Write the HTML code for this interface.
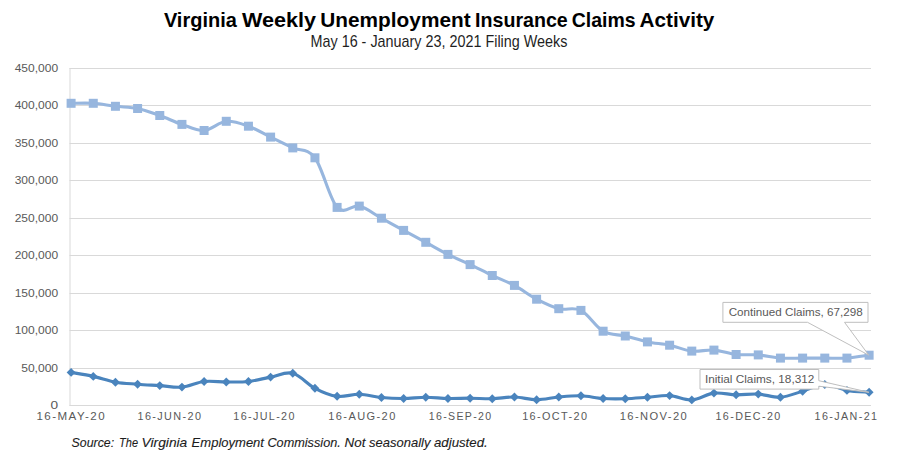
<!DOCTYPE html>
<html lang="en"><head><meta charset="utf-8"><title>Virginia Weekly Unemployment Insurance Claims Activity</title>
<style>html,body{margin:0;padding:0;background:#fff}body{width:908px;height:457px;overflow:hidden}svg{display:block}text{font-family:"Liberation Sans",Arial,sans-serif}</style>
</head><body>
<svg width="908" height="457" viewBox="0 0 908 457">
<rect width="908" height="457" fill="#fff"/>
<text y="26.6" font-size="20.2" font-weight="bold" fill="#000"><tspan x="163.9" textLength="73.0" lengthAdjust="spacingAndGlyphs">Virginia</tspan> <tspan x="242.0" textLength="74.0" lengthAdjust="spacingAndGlyphs">Weekly</tspan> <tspan x="320.3" textLength="150.3" lengthAdjust="spacingAndGlyphs">Unemployment</tspan> <tspan x="475.0" textLength="92.8" lengthAdjust="spacingAndGlyphs">Insurance</tspan> <tspan x="571.8" textLength="63.8" lengthAdjust="spacingAndGlyphs">Claims</tspan> <tspan x="639.6" textLength="74.8" lengthAdjust="spacingAndGlyphs">Activity</tspan></text>
<text x="310.5" y="46.9" font-size="16.4" fill="#1f1f1f" textLength="256.9" lengthAdjust="spacingAndGlyphs">May 16 - January 23, 2021 Filing Weeks</text>
<g stroke="#d9d9d9" stroke-width="1" fill="none">
<line x1="69.5" y1="405.50" x2="871.0" y2="405.50"/>
<line x1="69.5" y1="368.50" x2="871.0" y2="368.50"/>
<line x1="69.5" y1="330.50" x2="871.0" y2="330.50"/>
<line x1="69.5" y1="293.50" x2="871.0" y2="293.50"/>
<line x1="69.5" y1="255.50" x2="871.0" y2="255.50"/>
<line x1="69.5" y1="218.50" x2="871.0" y2="218.50"/>
<line x1="69.5" y1="180.50" x2="871.0" y2="180.50"/>
<line x1="69.5" y1="143.50" x2="871.0" y2="143.50"/>
<line x1="69.5" y1="105.50" x2="871.0" y2="105.50"/>
<line x1="69.5" y1="68.50" x2="871.0" y2="68.50"/>
<line x1="70.0" y1="68.00" x2="70.0" y2="406.00"/>
</g>
<g font-size="10.6" fill="#595959" text-anchor="end">
<text x="58.1" y="408.90" textLength="7.6" lengthAdjust="spacingAndGlyphs">0</text>
<text x="58.1" y="371.90" textLength="36.9" lengthAdjust="spacingAndGlyphs">50,000</text>
<text x="58.1" y="333.90" textLength="43.4" lengthAdjust="spacingAndGlyphs">100,000</text>
<text x="58.1" y="296.90" textLength="43.4" lengthAdjust="spacingAndGlyphs">150,000</text>
<text x="58.1" y="258.90" textLength="43.4" lengthAdjust="spacingAndGlyphs">200,000</text>
<text x="58.1" y="221.90" textLength="43.4" lengthAdjust="spacingAndGlyphs">250,000</text>
<text x="58.1" y="183.90" textLength="43.4" lengthAdjust="spacingAndGlyphs">300,000</text>
<text x="58.1" y="146.90" textLength="43.4" lengthAdjust="spacingAndGlyphs">350,000</text>
<text x="58.1" y="108.90" textLength="43.4" lengthAdjust="spacingAndGlyphs">400,000</text>
<text x="58.1" y="71.90" textLength="43.4" lengthAdjust="spacingAndGlyphs">450,000</text>
</g>
<g font-size="10.6" fill="#595959">
<text x="36.4" y="420.1" letter-spacing="1.35" textLength="69.8" lengthAdjust="spacingAndGlyphs">16-MAY-20</text>
<text x="137.5" y="420.1" letter-spacing="1.35" textLength="64.8" lengthAdjust="spacingAndGlyphs">16-JUN-20</text>
<text x="233.3" y="420.1" letter-spacing="1.35" textLength="62.5" lengthAdjust="spacingAndGlyphs">16-JUL-20</text>
<text x="328.3" y="420.1" letter-spacing="1.35" textLength="68.4" lengthAdjust="spacingAndGlyphs">16-AUG-20</text>
<text x="428.7" y="420.1" letter-spacing="1.35" textLength="63.8" lengthAdjust="spacingAndGlyphs">16-SEP-20</text>
<text x="522.2" y="420.1" letter-spacing="1.35" textLength="66.2" lengthAdjust="spacingAndGlyphs">16-OCT-20</text>
<text x="619.7" y="420.1" letter-spacing="1.35" textLength="68.5" lengthAdjust="spacingAndGlyphs">16-NOV-20</text>
<text x="715.5" y="420.1" letter-spacing="1.35" textLength="66.1" lengthAdjust="spacingAndGlyphs">16-DEC-20</text>
<text x="814.6" y="420.1" letter-spacing="1.35" textLength="63.8" lengthAdjust="spacingAndGlyphs">16-JAN-21</text>
</g>
<path d="M71.10 103.30 C74.79 103.30 85.88 102.80 93.27 103.30 C100.66 103.80 108.05 105.43 115.43 106.30 C122.82 107.17 130.21 106.97 137.60 108.50 C144.99 110.03 152.38 112.85 159.77 115.50 C167.16 118.15 174.55 121.90 181.94 124.40 C189.32 126.90 196.71 131.02 204.10 130.50 C211.49 129.98 218.88 122.02 226.27 121.30 C233.66 120.58 241.05 123.57 248.44 126.20 C255.83 128.83 263.21 133.48 270.60 137.10 C277.99 140.72 285.38 144.45 292.77 147.90 C300.16 151.35 307.55 147.88 314.94 157.80 C322.33 167.72 329.72 199.35 337.10 207.40 C344.49 215.45 351.88 204.30 359.27 206.10 C366.66 207.90 374.05 214.15 381.44 218.20 C388.83 222.25 396.22 226.38 403.61 230.40 C410.99 234.42 418.38 238.30 425.77 242.30 C433.16 246.30 440.55 250.68 447.94 254.40 C455.33 258.12 462.72 261.08 470.11 264.60 C477.50 268.12 484.88 272.03 492.27 275.50 C499.66 278.97 507.05 281.45 514.44 285.40 C521.83 289.35 529.22 295.32 536.61 299.20 C544.00 303.08 551.38 306.83 558.77 308.70 C566.16 310.57 573.55 306.65 580.94 310.40 C588.33 314.15 595.72 326.93 603.11 331.20 C610.50 335.47 617.89 334.22 625.28 336.00 C632.66 337.78 640.05 340.37 647.44 341.90 C654.83 343.43 662.22 343.67 669.61 345.20 C677.00 346.73 684.39 350.28 691.78 351.10 C699.17 351.92 706.55 349.53 713.94 350.10 C721.33 350.67 728.72 353.70 736.11 354.50 C743.50 355.30 750.89 354.30 758.28 354.90 C765.67 355.50 773.06 357.57 780.44 358.10 C787.83 358.63 795.22 358.10 802.61 358.10 C810.00 358.10 817.39 358.10 824.78 358.10 C832.17 358.10 839.56 358.58 846.95 358.10 C854.33 357.62 865.42 355.68 869.11 355.20" fill="none" stroke="#97b6de" stroke-width="3.1" stroke-linejoin="round" stroke-linecap="round"/>
<g fill="#97b6de">
<rect x="66.60" y="98.80" width="9" height="9"/>
<rect x="88.77" y="98.80" width="9" height="9"/>
<rect x="110.93" y="101.80" width="9" height="9"/>
<rect x="133.10" y="104.00" width="9" height="9"/>
<rect x="155.27" y="111.00" width="9" height="9"/>
<rect x="177.44" y="119.90" width="9" height="9"/>
<rect x="199.60" y="126.00" width="9" height="9"/>
<rect x="221.77" y="116.80" width="9" height="9"/>
<rect x="243.94" y="121.70" width="9" height="9"/>
<rect x="266.10" y="132.60" width="9" height="9"/>
<rect x="288.27" y="143.40" width="9" height="9"/>
<rect x="310.44" y="153.30" width="9" height="9"/>
<rect x="332.60" y="202.90" width="9" height="9"/>
<rect x="354.77" y="201.60" width="9" height="9"/>
<rect x="376.94" y="213.70" width="9" height="9"/>
<rect x="399.11" y="225.90" width="9" height="9"/>
<rect x="421.27" y="237.80" width="9" height="9"/>
<rect x="443.44" y="249.90" width="9" height="9"/>
<rect x="465.61" y="260.10" width="9" height="9"/>
<rect x="487.77" y="271.00" width="9" height="9"/>
<rect x="509.94" y="280.90" width="9" height="9"/>
<rect x="532.11" y="294.70" width="9" height="9"/>
<rect x="554.27" y="304.20" width="9" height="9"/>
<rect x="576.44" y="305.90" width="9" height="9"/>
<rect x="598.61" y="326.70" width="9" height="9"/>
<rect x="620.78" y="331.50" width="9" height="9"/>
<rect x="642.94" y="337.40" width="9" height="9"/>
<rect x="665.11" y="340.70" width="9" height="9"/>
<rect x="687.28" y="346.60" width="9" height="9"/>
<rect x="709.44" y="345.60" width="9" height="9"/>
<rect x="731.61" y="350.00" width="9" height="9"/>
<rect x="753.78" y="350.40" width="9" height="9"/>
<rect x="775.94" y="353.60" width="9" height="9"/>
<rect x="798.11" y="353.60" width="9" height="9"/>
<rect x="820.28" y="353.60" width="9" height="9"/>
<rect x="842.45" y="353.60" width="9" height="9"/>
<rect x="864.61" y="350.70" width="9" height="9"/>
</g>
<path d="M71.10 372.40 C74.79 373.07 85.88 374.77 93.27 376.40 C100.66 378.03 108.05 380.90 115.43 382.20 C122.82 383.50 130.21 383.63 137.60 384.20 C144.99 384.77 152.38 385.12 159.77 385.60 C167.16 386.08 174.55 387.78 181.94 387.10 C189.32 386.42 196.71 382.35 204.10 381.50 C211.49 380.65 218.88 382.00 226.27 382.00 C233.66 382.00 241.05 382.32 248.44 381.50 C255.83 380.68 263.21 378.47 270.60 377.10 C277.99 375.73 285.38 371.43 292.77 373.30 C300.16 375.17 307.55 384.47 314.94 388.30 C322.33 392.13 329.72 395.30 337.10 396.30 C344.49 397.30 351.88 394.10 359.27 394.30 C366.66 394.50 374.05 396.80 381.44 397.50 C388.83 398.20 396.22 398.55 403.61 398.50 C410.99 398.45 418.38 397.20 425.77 397.20 C433.16 397.20 440.55 398.33 447.94 398.50 C455.33 398.67 462.72 398.17 470.11 398.20 C477.50 398.23 484.88 398.90 492.27 398.70 C499.66 398.50 507.05 396.83 514.44 397.00 C521.83 397.17 529.22 399.70 536.61 399.70 C544.00 399.70 551.38 397.65 558.77 397.00 C566.16 396.35 573.55 395.55 580.94 395.80 C588.33 396.05 595.72 398.02 603.11 398.50 C610.50 398.98 617.89 398.92 625.28 398.70 C632.66 398.48 640.05 397.72 647.44 397.20 C654.83 396.68 662.22 395.15 669.61 395.60 C677.00 396.05 684.39 400.32 691.78 399.90 C699.17 399.48 706.55 393.95 713.94 393.10 C721.33 392.25 728.72 394.63 736.11 394.80 C743.50 394.97 750.89 393.70 758.28 394.10 C765.67 394.50 773.06 397.68 780.44 397.20 C787.83 396.72 795.22 393.32 802.61 391.20 C810.00 389.08 817.39 384.63 824.78 384.50 C832.17 384.37 839.56 389.12 846.95 390.40 C854.33 391.68 865.42 391.90 869.11 392.20" fill="none" stroke="#4a84bd" stroke-width="3.15" stroke-linejoin="round" stroke-linecap="round"/>
<g fill="#4a84bd">
<path d="M71.10 367.95L75.55 372.40L71.10 376.85L66.65 372.40Z"/>
<path d="M93.27 371.95L97.72 376.40L93.27 380.85L88.82 376.40Z"/>
<path d="M115.43 377.75L119.88 382.20L115.43 386.65L110.98 382.20Z"/>
<path d="M137.60 379.75L142.05 384.20L137.60 388.65L133.15 384.20Z"/>
<path d="M159.77 381.15L164.22 385.60L159.77 390.05L155.32 385.60Z"/>
<path d="M181.94 382.65L186.38 387.10L181.94 391.55L177.49 387.10Z"/>
<path d="M204.10 377.05L208.55 381.50L204.10 385.95L199.65 381.50Z"/>
<path d="M226.27 377.55L230.72 382.00L226.27 386.45L221.82 382.00Z"/>
<path d="M248.44 377.05L252.89 381.50L248.44 385.95L243.99 381.50Z"/>
<path d="M270.60 372.65L275.05 377.10L270.60 381.55L266.15 377.10Z"/>
<path d="M292.77 368.85L297.22 373.30L292.77 377.75L288.32 373.30Z"/>
<path d="M314.94 383.85L319.39 388.30L314.94 392.75L310.49 388.30Z"/>
<path d="M337.10 391.85L341.55 396.30L337.10 400.75L332.65 396.30Z"/>
<path d="M359.27 389.85L363.72 394.30L359.27 398.75L354.82 394.30Z"/>
<path d="M381.44 393.05L385.89 397.50L381.44 401.95L376.99 397.50Z"/>
<path d="M403.61 394.05L408.06 398.50L403.61 402.95L399.16 398.50Z"/>
<path d="M425.77 392.75L430.22 397.20L425.77 401.65L421.32 397.20Z"/>
<path d="M447.94 394.05L452.39 398.50L447.94 402.95L443.49 398.50Z"/>
<path d="M470.11 393.75L474.56 398.20L470.11 402.65L465.66 398.20Z"/>
<path d="M492.27 394.25L496.72 398.70L492.27 403.15L487.82 398.70Z"/>
<path d="M514.44 392.55L518.89 397.00L514.44 401.45L509.99 397.00Z"/>
<path d="M536.61 395.25L541.06 399.70L536.61 404.15L532.16 399.70Z"/>
<path d="M558.77 392.55L563.22 397.00L558.77 401.45L554.32 397.00Z"/>
<path d="M580.94 391.35L585.39 395.80L580.94 400.25L576.49 395.80Z"/>
<path d="M603.11 394.05L607.56 398.50L603.11 402.95L598.66 398.50Z"/>
<path d="M625.28 394.25L629.73 398.70L625.28 403.15L620.83 398.70Z"/>
<path d="M647.44 392.75L651.89 397.20L647.44 401.65L642.99 397.20Z"/>
<path d="M669.61 391.15L674.06 395.60L669.61 400.05L665.16 395.60Z"/>
<path d="M691.78 395.45L696.23 399.90L691.78 404.35L687.33 399.90Z"/>
<path d="M713.94 388.65L718.39 393.10L713.94 397.55L709.49 393.10Z"/>
<path d="M736.11 390.35L740.56 394.80L736.11 399.25L731.66 394.80Z"/>
<path d="M758.28 389.65L762.73 394.10L758.28 398.55L753.83 394.10Z"/>
<path d="M780.44 392.75L784.89 397.20L780.44 401.65L775.99 397.20Z"/>
<path d="M802.61 386.75L807.06 391.20L802.61 395.65L798.16 391.20Z"/>
<path d="M824.78 380.05L829.23 384.50L824.78 388.95L820.33 384.50Z"/>
<path d="M846.95 385.95L851.40 390.40L846.95 394.85L842.50 390.40Z"/>
<path d="M869.11 387.75L873.56 392.20L869.11 396.65L864.66 392.20Z"/>
</g>
<path d="M722.9 302.4H868V322.3H844.5L868.8 355.2L807.5 322.3H722.9Z" fill="#fff" stroke="#bfbfbf" stroke-width="1"/>
<text x="728.7" y="316.1" font-size="11.7" fill="#595959" textLength="134" lengthAdjust="spacingAndGlyphs">Continued Claims, 67,298</text>
<path d="M700 369.5H818.8V380.7L869 392.3L818.8 386.2V389.1H700Z" fill="#fff" stroke="#bfbfbf" stroke-width="1"/>
<text x="704.9" y="382.8" font-size="11.7" fill="#595959" textLength="109.5" lengthAdjust="spacingAndGlyphs">Initial Claims, 18,312</text>
<text y="446.8" font-size="12.6" font-style="italic" fill="#1c1c1c" stroke="#1c1c1c" stroke-width="0.12"><tspan x="71.6" textLength="42.5" lengthAdjust="spacingAndGlyphs">Source:</tspan> <tspan x="119.1" textLength="19.0" lengthAdjust="spacingAndGlyphs">The</tspan> <tspan x="141.6" textLength="45.7" lengthAdjust="spacingAndGlyphs">Virginia</tspan> <tspan x="191.6" textLength="72.4" lengthAdjust="spacingAndGlyphs">Employment</tspan> <tspan x="267.4" textLength="73.4" lengthAdjust="spacingAndGlyphs">Commission.</tspan> <tspan x="344.6" textLength="20.9" lengthAdjust="spacingAndGlyphs">Not</tspan> <tspan x="369.1" textLength="61.4" lengthAdjust="spacingAndGlyphs">seasonally</tspan> <tspan x="434.0" textLength="53.7" lengthAdjust="spacingAndGlyphs">adjusted.</tspan></text>
</svg></body></html>
